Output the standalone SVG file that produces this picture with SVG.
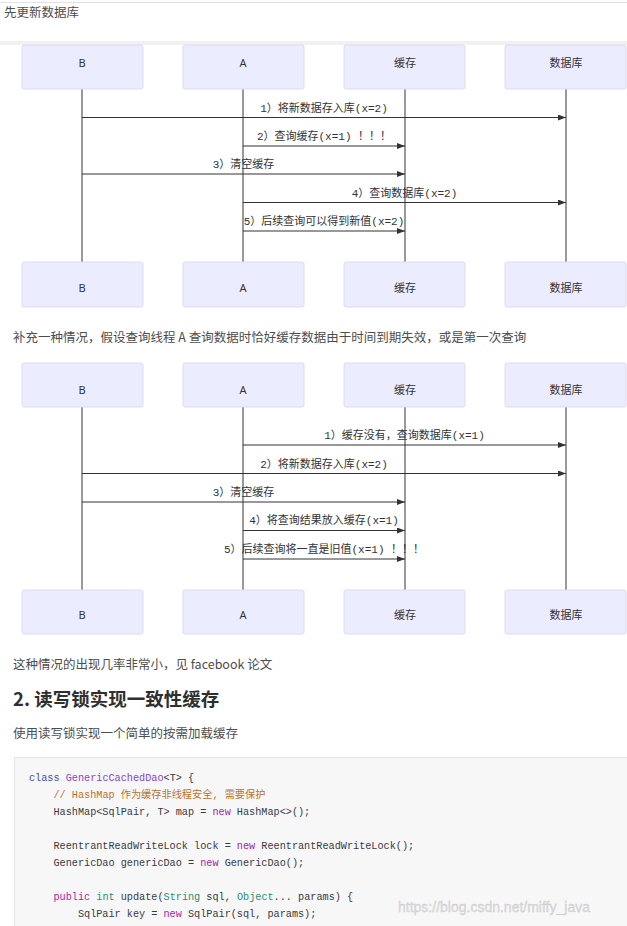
<svg xmlns="http://www.w3.org/2000/svg" width="627" height="926" viewBox="0 0 627 926">
<defs>
<style>
.actor{fill:#ECECFF;stroke:#dcdcf2;stroke-width:1}
.atxt{font-family:"Noto Sans","Noto Sans CJK SC",sans-serif;font-size:11px;fill:#333;text-anchor:middle}
.life{stroke:#555;stroke-width:1.2}
.msg{stroke:#333;stroke-width:1;fill:none;marker-end:url(#ah)}
.mtxt{font-family:"Liberation Mono","Noto Sans CJK SC",monospace;font-size:11px;fill:#333;text-anchor:middle}
.body{font-family:"Noto Sans CJK SC","Noto Sans",sans-serif;font-size:12.5px;fill:#4d4d4d}
.h2{font-family:"Noto Sans CJK SC","Noto Sans",sans-serif;font-size:18.5px;font-weight:bold;fill:#2f2f2f}
.code{font-family:"Liberation Mono","Noto Sans CJK SC",monospace;font-size:10.2px;fill:#383a42;white-space:pre}
.kw{fill:#a626a4}
.cls{fill:#4b4ba8}
.tn{fill:#8a45c4}
.ty{fill:#2e8b73}
.cm{fill:#b8742e}
</style>
<marker id="ah" viewBox="0 0 8 6" refX="8" refY="3" markerWidth="8" markerHeight="6" markerUnits="userSpaceOnUse" orient="auto">
<path d="M0,0 L8,3 L0,6 z" fill="#333"/>
</marker>
</defs>
<rect width="627" height="926" fill="#fff"/>
<line x1="0" y1="2.5" x2="627" y2="2.5" stroke="#e2e2e2" stroke-width="1"/>
<text class="body" x="4" y="17">先更新数据库</text>
<rect x="0" y="41" width="627" height="4" fill="#f1f1f1"/>

<!-- Diagram 1 -->
<g id="d1-lifelines">
<line class="life" x1="82" y1="89" x2="82" y2="262"/>
<line class="life" x1="243" y1="89" x2="243" y2="262"/>
<line class="life" x1="405" y1="89" x2="405" y2="262"/>
<line class="life" x1="566" y1="89" x2="566" y2="262"/>
</g>
<g id="d1-B-top"><rect class="actor" x="22" y="45" width="121" height="44" rx="2"/><text class="atxt" x="82" y="67">B</text></g>
<g id="d1-A-top"><rect class="actor" x="183" y="45" width="121" height="44" rx="2"/><text class="atxt" x="243" y="67">A</text></g>
<g id="d1-cache-top"><rect class="actor" x="344" y="45" width="121" height="44" rx="2"/><text class="atxt" x="405" y="67">缓存</text></g>
<g id="d1-db-top"><rect class="actor" x="505" y="45" width="121" height="44" rx="2"/><text class="atxt" x="566" y="67">数据库</text></g>
<g id="d1-B-bot"><rect class="actor" x="22" y="262" width="121" height="45" rx="2"/><text class="atxt" x="82" y="292">B</text></g>
<g id="d1-A-bot"><rect class="actor" x="183" y="262" width="121" height="45" rx="2"/><text class="atxt" x="243" y="292">A</text></g>
<g id="d1-cache-bot"><rect class="actor" x="344" y="262" width="121" height="45" rx="2"/><text class="atxt" x="405" y="292">缓存</text></g>
<g id="d1-db-bot"><rect class="actor" x="505" y="262" width="121" height="45" rx="2"/><text class="atxt" x="566" y="292">数据库</text></g>
<g id="d1-connectors">
<line class="msg" x1="82" y1="117.5" x2="566" y2="117.5"/>
<text class="mtxt" x="324" y="112">1）将新数据存入库(x=2)</text>
<line class="msg" x1="243" y1="146" x2="405" y2="146"/>
<text class="mtxt" x="324" y="140">2）查询缓存(x=1) ！！！</text>
<line class="msg" x1="82" y1="174" x2="405" y2="174"/>
<text class="mtxt" x="243.5" y="168">3）清空缓存</text>
<line class="msg" x1="243" y1="202.5" x2="566" y2="202.5"/>
<text class="mtxt" x="404.5" y="197">4）查询数据库(x=2)</text>
<line class="msg" x1="243" y1="231" x2="405" y2="231"/>
<text class="mtxt" x="324" y="225">5）后续查询可以得到新值(x=2)</text>
</g>

<text class="body" x="13" y="342">补充一种情况，假设查询线程 A 查询数据时恰好缓存数据由于时间到期失效，或是第一次查询</text>

<!-- Diagram 2 -->
<g id="d2-lifelines">
<line class="life" x1="82" y1="407" x2="82" y2="590"/>
<line class="life" x1="243" y1="407" x2="243" y2="590"/>
<line class="life" x1="405" y1="407" x2="405" y2="590"/>
<line class="life" x1="566" y1="407" x2="566" y2="590"/>
</g>
<g id="d2-B-top"><rect class="actor" x="22" y="363" width="121" height="44" rx="2"/><text class="atxt" x="82" y="394">B</text></g>
<g id="d2-A-top"><rect class="actor" x="183" y="363" width="121" height="44" rx="2"/><text class="atxt" x="243" y="394">A</text></g>
<g id="d2-cache-top"><rect class="actor" x="344" y="363" width="121" height="44" rx="2"/><text class="atxt" x="405" y="394">缓存</text></g>
<g id="d2-db-top"><rect class="actor" x="505" y="363" width="121" height="44" rx="2"/><text class="atxt" x="566" y="394">数据库</text></g>
<g id="d2-B-bot"><rect class="actor" x="22" y="590" width="121" height="44" rx="2"/><text class="atxt" x="82" y="619">B</text></g>
<g id="d2-A-bot"><rect class="actor" x="183" y="590" width="121" height="44" rx="2"/><text class="atxt" x="243" y="619">A</text></g>
<g id="d2-cache-bot"><rect class="actor" x="344" y="590" width="121" height="44" rx="2"/><text class="atxt" x="405" y="619">缓存</text></g>
<g id="d2-db-bot"><rect class="actor" x="505" y="590" width="121" height="44" rx="2"/><text class="atxt" x="566" y="619">数据库</text></g>
<g id="d2-connectors">
<line class="msg" x1="243" y1="445" x2="566" y2="445"/>
<text class="mtxt" x="404.5" y="439">1）缓存没有，查询数据库(x=1)</text>
<line class="msg" x1="82" y1="473.5" x2="566" y2="473.5"/>
<text class="mtxt" x="324" y="468">2）将新数据存入库(x=2)</text>
<line class="msg" x1="82" y1="502" x2="405" y2="502"/>
<text class="mtxt" x="243.5" y="496">3）清空缓存</text>
<line class="msg" x1="243" y1="530.5" x2="405" y2="530.5"/>
<text class="mtxt" x="324" y="524">4）将查询结果放入缓存(x=1)</text>
<line class="msg" x1="243" y1="559" x2="405" y2="559"/>
<text class="mtxt" x="324" y="553">5）后续查询将一直是旧值(x=1) ！！！</text>
</g>

<text class="body" x="13" y="669">这种情况的出现几率非常小，见 facebook 论文</text>
<text class="h2" x="13" y="706">2. 读写锁实现一致性缓存</text>
<text class="body" x="13" y="738">使用读写锁实现一个简单的按需加载缓存</text>

<g id="code">
<rect x="14.5" y="757.5" width="620" height="180" fill="#f7f7f8" stroke="#e6e6e6"/>
<text class="code" x="29" y="781"><tspan class="cls">class</tspan> <tspan class="tn">GenericCachedDao</tspan>&lt;T&gt; {</text>
<text class="code" x="29" y="798" xml:space="preserve">    <tspan class="cm">// HashMap 作为缓存非线程安全, 需要保护</tspan></text>
<text class="code" x="29" y="815" xml:space="preserve">    HashMap&lt;SqlPair, T&gt; map = <tspan class="kw">new</tspan> HashMap&lt;&gt;();</text>
<text class="code" x="29" y="849" xml:space="preserve">    ReentrantReadWriteLock lock = <tspan class="kw">new</tspan> ReentrantReadWriteLock();</text>
<text class="code" x="29" y="866" xml:space="preserve">    GenericDao genericDao = <tspan class="kw">new</tspan> GenericDao();</text>
<text class="code" x="29" y="900" xml:space="preserve">    <tspan class="kw">public</tspan> <tspan class="ty">int</tspan> update(<tspan class="ty">String</tspan> sql, <tspan class="ty">Object</tspan>... params) {</text>
<text class="code" x="29" y="917" xml:space="preserve">        SqlPair key = <tspan class="kw">new</tspan> SqlPair(sql, params);</text>
</g>
<text x="398" y="912" font-family="Liberation Sans, sans-serif" font-size="14" fill="#dcdcdc" stroke="#c8c8c8" stroke-width="0.3">https://blog.csdn.net/miffy_java</text>
</svg>
